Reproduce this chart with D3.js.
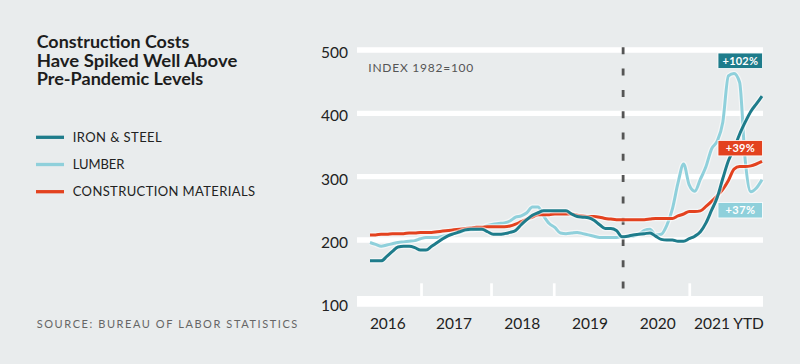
<!DOCTYPE html>
<html>
<head>
<meta charset="utf-8">
<script src="https://cdn.jsdelivr.net/npm/d3@7"></script>
<style>
  html, body { margin: 0; padding: 0; background: #E9ECED; }
  svg { display: block; font-family: Lato, "Noto Sans", sans-serif; }
</style>
</head>
<body>
<svg id="chart" width="800" height="364"></svg>
<script>
// ---------- DATA ----------
const titleLines = ["Construction Costs", "Have Spiked Well Above", "Pre-Pandemic Levels"];
const seriesNames = ["IRON & STEEL", "LUMBER", "CONSTRUCTION MATERIALS"];
const seriesColors = ["#1E7C8B", "#8FD0DB", "#E3421F"];

// monthly index series
const ironSteel = [167,167,167,174,182,189,190,190,188,184,
                   184,190,196,202,207,210,213,216,217,217,
                   217,213,209,209,210,212,215,224,232,239,
                   243,246,246,246,246,246,241,237,236,235,
                   231,224,218,218,215,205,206,208,209,210,
                   211,206,201,200,200,198,198,202,206,213,
                   227,247,267,297,325,344,367,386,403,415,
                   427];
const lumber =     [196,193,190,192,194,196,197,198,199,202,
                   204,204,204,206,208,210,212,215,216,217,
                   219,223,225,226,227,230,236,238,243,252,
                   252,238,226,220,211,210,211,212,210,208,
                   206,204,204,204,204,205,206,206,209,215,
                   217,208,209,223,249,290,320,287,277,296,
                   316,344,356,386,459,463,449,326,276,282,
                   295];
const constructionMaterials = [208,208,209,209,210,210,210,211,211,212,
                   212,212,213,214,215,216,217,218,219,220,
                   220,221,221,221,221,222,225,229,233,236,
                   240,240,240,241,241,241,241,239,238,237,
                   237,236,234,233,232,232,232,232,232,232,
                   233,234,234,234,234,238,241,245,245,246,
                   253,261,270,280,294,312,316,316,317,320,
                   324];

const yTicks = [100, 200, 300, 400, 500];
const yearLabels = ["2016", "2017", "2018", "2019", "2020", "2021 YTD"];
const yearLabelAt = [3.1, 14.9, 27.1, 39.2, 51.3, 64.0];   // in month-index units
const yearBounds = [9.2, 21.7, 32.9, 57.1];                // year boundary ticks
const pandemicAt = 45.2;                                    // dashed marker
const changeLabels = ["+102%", "+37%", "+39%"];             // iron, lumber, materials
const changeLabelValue = [483, 247, 345];                   // label anchor (index value)

// ---------- CHART ----------
const svg = d3.select("#chart");
const W = 800, H = 364;
svg.append("rect").attr("width", W).attr("height", H).attr("fill", "#E9ECED");

const N = ironSteel.length;
const x = d3.scaleLinear().domain([0, N - 1]).range([370, 762]);
const y = d3.scaleLinear().domain([100, 500]).range([303.3, 50]);
const plotL = 357, plotR = 763;

// gridlines
svg.append("g").selectAll("line").data(yTicks.filter(v => v > 100)).join("line")
  .attr("x1", plotL).attr("x2", plotR)
  .attr("y1", d => y(d)).attr("y2", d => y(d))
  .attr("stroke", "#fff").attr("stroke-width", 5.3);
// thick baseline
svg.append("line").attr("x1", plotL).attr("x2", plotR)
  .attr("y1", y(100) - 2).attr("y2", y(100) - 2)
  .attr("stroke", "#fff").attr("stroke-width", 10.7);
// year boundary ticks
svg.append("g").selectAll("line").data(yearBounds).join("line")
  .attr("x1", d => x(d)).attr("x2", d => x(d))
  .attr("y1", y(100) - 20).attr("y2", y(100) - 6)
  .attr("stroke", "#fff").attr("stroke-width", 2.7);

// y axis labels
const yAxis = svg.append("g").attr("transform", "translate(348,0)")
  .call(d3.axisLeft(y).tickValues(yTicks).tickSize(0).tickPadding(0).tickFormat(d3.format("d")));
yAxis.select(".domain").remove();
yAxis.selectAll("text").attr("dy", "0.49em")
  .style("font-family", "Lato, sans-serif").style("font-size", "15.5px").attr("fill", "#222");

// x axis labels
const xAxis = svg.append("g").attr("transform", "translate(0,317.6)")
  .call(d3.axisBottom(x).tickValues(yearLabelAt).tickSize(0).tickPadding(0)
    .tickFormat((d, i) => yearLabels[i]));
xAxis.select(".domain").remove();
xAxis.selectAll("text")
  .style("font-family", "Lato, sans-serif").style("font-size", "15.5px").attr("fill", "#222");

// pandemic dashed line
svg.append("line")
  .attr("x1", x(pandemicAt)).attr("x2", x(pandemicAt))
  .attr("y1", 47.3).attr("y2", 290)
  .attr("stroke", "#555").attr("stroke-width", 2.8)
  .attr("stroke-dasharray", "7,14.3");

// INDEX note
svg.append("text").attr("x", 368.3).attr("y", 71.7)
  .attr("textLength", 105).attr("lengthAdjust", "spacing")
  .style("font-size", "12px").attr("fill", "#555").text("INDEX 1982=100");

// lines
const line = d3.line().x((d, i) => x(i)).y(d => y(d)).curve(d3.curveMonotoneX);
const series = [lumber, constructionMaterials, ironSteel];
const seriesColorOrder = [seriesColors[1], seriesColors[2], seriesColors[0]];
const lg = svg.append("g");
series.forEach((s, k) => {
  lg.append("path").attr("d", line(s)).attr("fill", "none")
    .attr("stroke", "#fff").attr("stroke-opacity", 0.55).attr("stroke-width", 5.5)
    .attr("stroke-linejoin", "round");
  lg.append("path").attr("d", line(s)).attr("fill", "none")
    .attr("stroke", seriesColorOrder[k]).attr("stroke-width", 3)
    .attr("stroke-linejoin", "round");
});

// change labels
const boxColors = [seriesColors[0], seriesColors[1], seriesColors[2]];
const labelWidths = [35.4, 29.4, 29];
const ann = svg.append("g");
changeLabels.forEach((t, i) => {
  const cy = y(changeLabelValue[i]);
  const bw = 44.5, bh = 15.5;
  const bx = x(N - 1) - bw + 0.5;
  ann.append("rect").attr("x", bx).attr("y", cy - bh / 2).attr("width", bw).attr("height", bh)
    .attr("fill", boxColors[i]).attr("stroke", "#fff").attr("stroke-width", 0.8);
  ann.append("text").attr("x", bx + bw / 2).attr("y", cy + 4.1)
    .attr("text-anchor", "middle").attr("fill", "#fff")
    .attr("textLength", labelWidths[i]).attr("lengthAdjust", "spacing")
    .style("font-size", "11px").style("font-weight", 700)
    .text(t);
});

// title
const titleWidths = [152.6, 200.6, 166.6];
svg.append("g").selectAll("text").data(titleLines).join("text")
  .attr("x", 36.7).attr("y", (d, i) => 48.3 + i * 18.35)
  .attr("textLength", (d, i) => titleWidths[i]).attr("lengthAdjust", "spacingAndGlyphs")
  .style("font-size", "16.5px").style("font-weight", 700).attr("fill", "#1d1d1d")
  .text(d => d);

// legend
const legendWidths = [89, 51.7, 182.3];
const leg = svg.append("g");
seriesNames.forEach((n, i) => {
  const ly = 137.3 + i * 27.2;
  leg.append("line").attr("x1", 36).attr("x2", 64).attr("y1", ly).attr("y2", ly)
    .attr("stroke", seriesColors[i]).attr("stroke-width", 3.3);
  leg.append("text").attr("x", 72.7).attr("y", ly + 4.7)
    .attr("textLength", legendWidths[i]).attr("lengthAdjust", "spacing")
    .style("font-size", "13px").attr("fill", "#222").text(n);
});

// source
svg.append("text").attr("x", 36.7).attr("y", 328.3)
  .attr("textLength", 260.6).attr("lengthAdjust", "spacing")
  .style("font-size", "11px").attr("fill", "#666")
  .text("SOURCE: BUREAU OF LABOR STATISTICS");
</script>
</body>
</html>
